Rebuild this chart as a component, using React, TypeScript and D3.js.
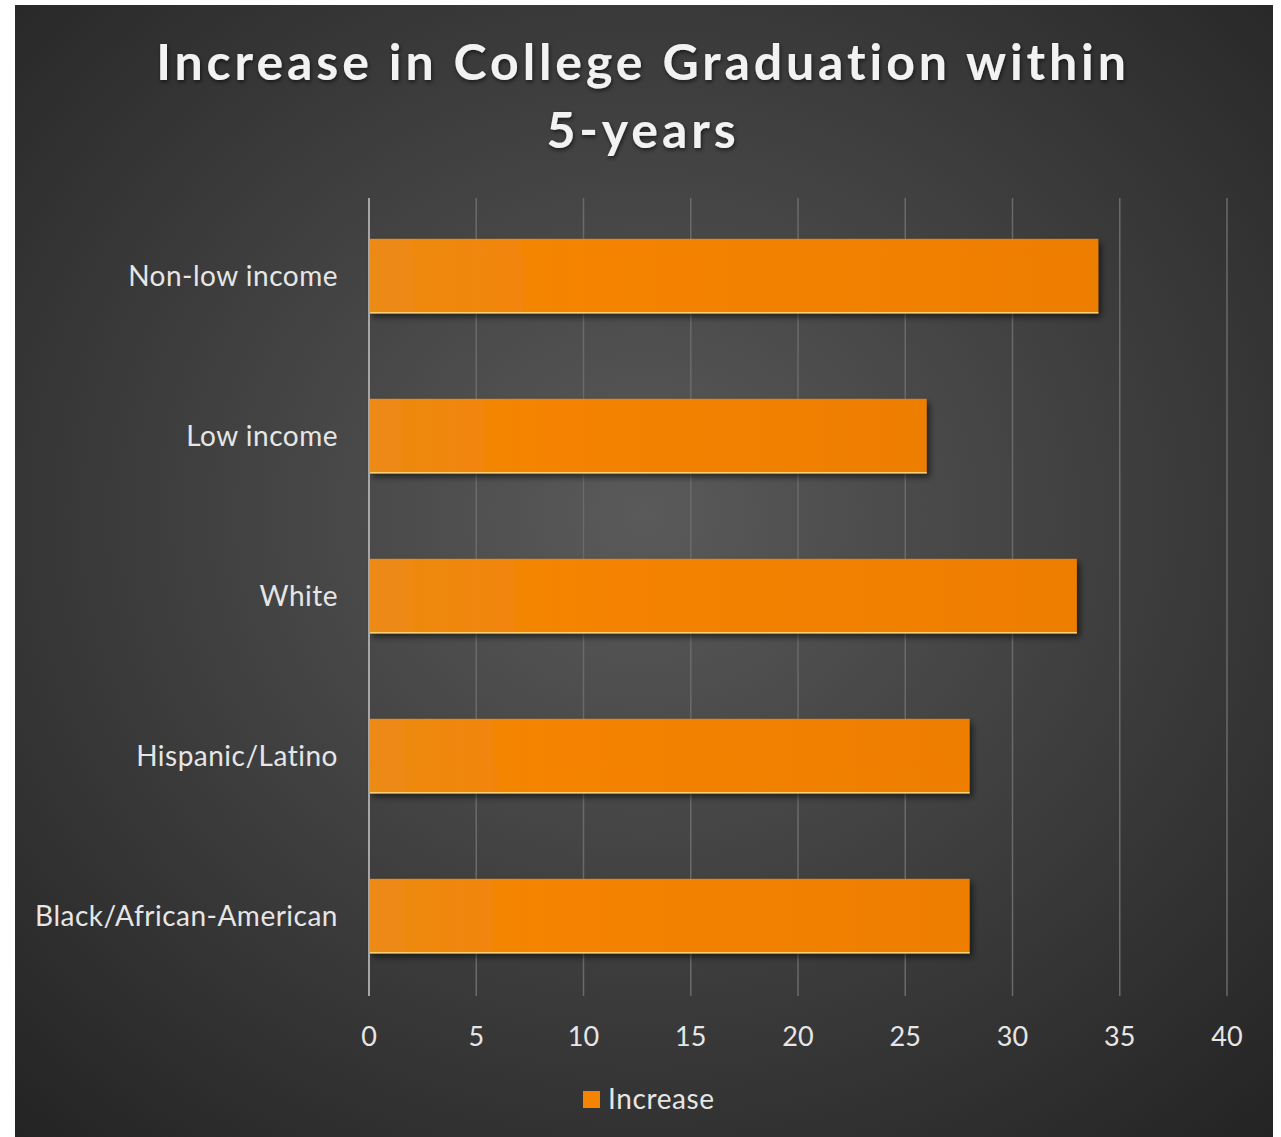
import React from "react";
import * as d3 from "d3";

const categories = ["Non-low income", "Low income", "White", "Hispanic/Latino", "Black/African-American"];
const values = [34, 26, 33, 28, 28];
const ticks = [0, 5, 10, 15, 20, 25, 30, 35, 40];
const titleLines = ["Increase in College Graduation within", "5-years"];
const seriesName = "Increase";

export default function App() {
  const W = 1281, H = 1137;
  const x = d3.scaleLinear().domain([0, 40]).range([369, 1227]);
  const y = d3.scaleBand<string>().domain(categories).range([198, 994]).paddingInner(0.535).paddingOuter(0.255);
  const font = "Lato, 'Open Sans', sans-serif";
  return (
    <svg width={W} height={H} style={{ position: "absolute", left: 0, top: 0 }}>
      <defs>
        <radialGradient id="bg" cx="0.5" cy="0.45" r="0.75">
          <stop offset="0" stopColor="#5a5a5a" />
          <stop offset="1" stopColor="#232323" />
        </radialGradient>
        <linearGradient id="bar" x1="0" x2="1" y1="0" y2="0">
          <stop offset="0" stopColor="#ec8a16" />
          <stop offset="0.3" stopColor="#f58300" />
          <stop offset="1" stopColor="#ee7e00" />
        </linearGradient>
        <filter id="sh" x="-5%" y="-30%" width="115%" height="170%">
          <feDropShadow dx="3" dy="4" stdDeviation="3" floodColor="#000" floodOpacity="0.55" />
        </filter>
        <filter id="tsh" x="-5%" y="-30%" width="110%" height="170%">
          <feDropShadow dx="1" dy="2" stdDeviation="2" floodColor="#000" floodOpacity="0.6" />
        </filter>
      </defs>
      <rect x={15} y={5} width={1258} height={1132} fill="url(#bg)" />
      {titleLines.map((t, i) => (
        <text key={i} x={643} y={80 + i * 68} textAnchor="middle" fill="#f2f2f2" fontFamily={font}
          fontWeight="bold" fontSize={50} letterSpacing={3.9} filter="url(#tsh)">{t}</text>
      ))}
      {ticks.slice(1).map(t => (
        <line key={t} x1={x(t)} x2={x(t)} y1={198} y2={996} stroke="#6a6a6a" strokeWidth={1.5} />
      ))}
      {categories.map((c, i) => (
        <g key={c}>
          <rect x={x(0)} y={y(c)} width={x(values[i]) - x(0)} height={y.bandwidth()} fill="url(#bar)" filter="url(#sh)" />
          <line x1={x(0)} x2={x(values[i])} y1={(y(c) as number) + y.bandwidth() - 0.5} y2={(y(c) as number) + y.bandwidth() - 0.5} stroke="#ffd27a" strokeWidth={1.5} />
          <text x={338} y={(y(c) as number) + y.bandwidth() / 2} dy="0.35em" textAnchor="end" fill="#e6e6e6"
            fontFamily={font} fontSize={28} letterSpacing={0.5}>{c}</text>
        </g>
      ))}
      <line x1={x(0)} x2={x(0)} y1={198} y2={996} stroke="#a6a6a6" strokeWidth={2} />
      {ticks.map(t => (
        <text key={t} x={x(t)} y={1037} dy="0.35em" textAnchor="middle" fill="#e6e6e6" fontFamily={font} fontSize={27}>{t}</text>
      ))}
      <rect x={583} y={1091} width={17} height={17} fill="#f58300" />
      <text x={608} y={1099} dy="0.35em" fill="#e6e6e6" fontFamily={font} fontSize={28} letterSpacing={0.6}>{seriesName}</text>
    </svg>
  );
}
